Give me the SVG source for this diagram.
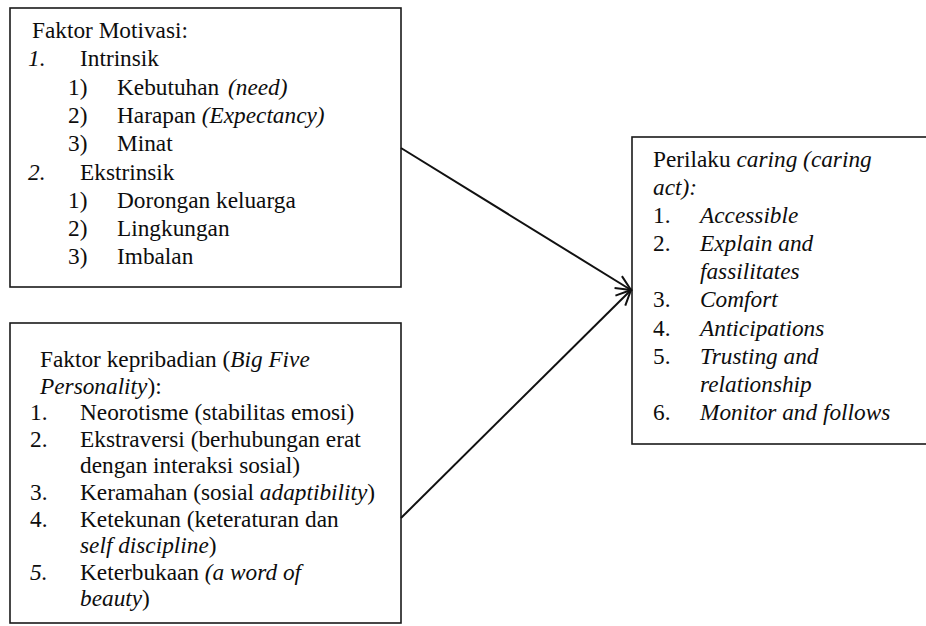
<svg xmlns="http://www.w3.org/2000/svg" width="926" height="626" viewBox="0 0 926 626">
  <style>
    .box { fill: #ffffff; stroke: #1a1a1a; stroke-width: 1.6; }
    .t { font-family: "Liberation Serif", "Times New Roman", serif; font-size: 23.3px; fill: #0d0d0d; }
    .i { font-style: italic; }
    .edge { fill: none; stroke: #111111; stroke-width: 2; }
  </style>
  <defs>
    <marker id="head" viewBox="0 0 20 20" refX="18" refY="10" markerWidth="20" markerHeight="20" markerUnits="userSpaceOnUse" orient="auto">
      <path d="M3,3 L18,10 L3,17" fill="none" stroke="#111111" stroke-width="2"/>
    </marker>
  </defs>
  <rect width="926" height="626" fill="#ffffff"/>

  <!-- motivation factors -->
  <g id="motivasi">
    <rect class="box" x="10" y="8" width="391" height="279"/>
    <text class="t" x="32" y="38">Faktor Motivasi:</text>
    <text class="t i" x="28" y="66">1.</text>
    <text class="t" x="80" y="66">Intrinsik</text>
    <text class="t" x="68" y="94.6">1)</text>
    <text class="t" x="117" y="94.6">Kebutuhan</text>
    <text class="t i" x="228" y="94.6">(need)</text>
    <text class="t" x="68" y="123">2)</text>
    <text class="t" x="117" y="123">Harapan <tspan class="i">(Expectancy)</tspan></text>
    <text class="t" x="68" y="151.2">3)</text>
    <text class="t" x="117" y="151.2">Minat</text>
    <text class="t i" x="28" y="179.5">2.</text>
    <text class="t" x="80" y="179.5">Ekstrinsik</text>
    <text class="t" x="68" y="207.8">1)</text>
    <text class="t" x="117" y="207.8">Dorongan keluarga</text>
    <text class="t" x="68" y="236.1">2)</text>
    <text class="t" x="117" y="236.1">Lingkungan</text>
    <text class="t" x="68" y="264.4">3)</text>
    <text class="t" x="117" y="264.4">Imbalan</text>
  </g>

  <!-- personality factors -->
  <g id="kepribadian">
    <rect class="box" x="10" y="323" width="391" height="300"/>
    <text class="t" x="40" y="367">Faktor kepribadian (<tspan class="i">Big Five</tspan></text>
    <text class="t" x="40" y="393.6"><tspan class="i">Personality</tspan>):</text>
    <text class="t" x="30" y="420.2">1.</text>
    <text class="t" x="80" y="420.2">Neorotisme (stabilitas emosi)</text>
    <text class="t" x="30" y="446.8">2.</text>
    <text class="t" x="80" y="446.8">Ekstraversi (berhubungan erat</text>
    <text class="t" x="80" y="473.4">dengan interaksi sosial)</text>
    <text class="t" x="30" y="500">3.</text>
    <text class="t" x="80" y="500">Keramahan (sosial <tspan class="i">adaptibility</tspan>)</text>
    <text class="t" x="30" y="526.6">4.</text>
    <text class="t" x="80" y="526.6">Ketekunan (keteraturan dan</text>
    <text class="t" x="80" y="553.2"><tspan class="i">self discipline</tspan>)</text>
    <text class="t i" x="30" y="579.8">5.</text>
    <text class="t" x="80" y="579.8">Keterbukaan <tspan class="i">(a word of</tspan></text>
    <text class="t" x="80" y="606.4"><tspan class="i">beauty</tspan>)</text>
  </g>

  <!-- caring behaviour -->
  <g id="caring">
    <rect class="box" x="632" y="137" width="310" height="307"/>
    <text class="t" x="653" y="167">Perilaku <tspan class="i">caring (caring</tspan></text>
    <text class="t i" x="653" y="195">act):</text>
    <text class="t" x="653" y="223">1.</text>
    <text class="t i" x="700" y="223">Accessible</text>
    <text class="t" x="653" y="251">2.</text>
    <text class="t i" x="700" y="251">Explain and</text>
    <text class="t i" x="700" y="279">fassilitates</text>
    <text class="t" x="653" y="307">3.</text>
    <text class="t i" x="700" y="307">Comfort</text>
    <text class="t" x="653" y="335.5">4.</text>
    <text class="t i" x="700" y="335.5">Anticipations</text>
    <text class="t" x="653" y="363.5">5.</text>
    <text class="t i" x="700" y="363.5">Trusting and</text>
    <text class="t i" x="700" y="391.5">relationship</text>
    <text class="t" x="653" y="420">6.</text>
    <text class="t i" x="700" y="420">Monitor and follows</text>
  </g>

  <g id="connectors">
    <line class="edge" x1="401" y1="148" x2="631" y2="290" marker-end="url(#head)"/>
    <line class="edge" x1="401" y1="518" x2="631" y2="290" marker-end="url(#head)"/>
  </g>
</svg>
